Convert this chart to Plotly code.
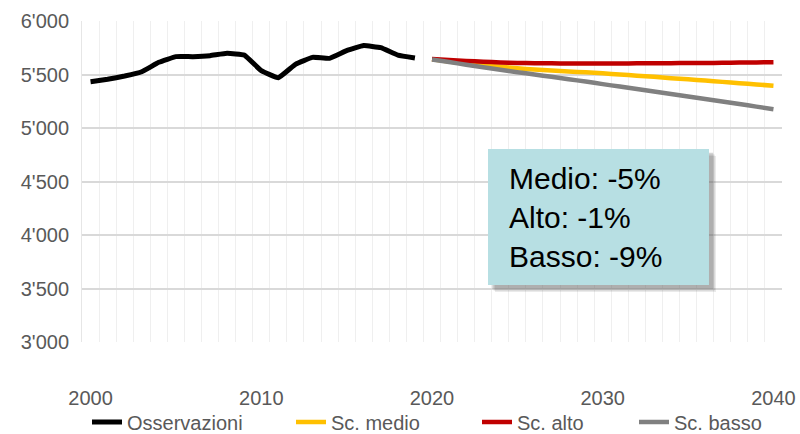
import plotly.graph_objects as go

obs_years = list(range(2000, 2020))
obs_values = [5433, 5455, 5486, 5526, 5614, 5667, 5667, 5676, 5698, 5682,
              5536, 5470, 5595, 5660, 5651, 5723, 5770, 5751, 5682, 5655]

sc_years = list(range(2020, 2041))
sc_medio = [5642, 5622, 5603, 5587, 5572, 5558, 5547, 5537, 5528, 5520, 5511,
            5500, 5489, 5478, 5466, 5455, 5443, 5431, 5419, 5407, 5395]
sc_alto = [5645, 5636, 5627, 5619, 5613, 5608, 5605, 5604, 5603, 5603, 5603,
           5603, 5604, 5605, 5606, 5607, 5608, 5609, 5611, 5613, 5614]
sc_basso = [5640, 5616, 5592, 5568, 5545, 5522, 5500, 5478, 5456, 5434, 5410,
            5387, 5364, 5341, 5318, 5295, 5272, 5248, 5224, 5200, 5176]

series_names = ["Osservazioni", "Sc. medio", "Sc. alto", "Sc. basso"]
series_colors = ["#000000", "#FFC000", "#C00000", "#808080"]

y_ticks = [3000, 3500, 4000, 4500, 5000, 5500, 6000]
y_ticklabels = ["3'000", "3'500", "4'000", "4'500", "5'000", "5'500", "6'000"]
x_ticks = [2000, 2010, 2020, 2030, 2040]

box_lines = ["Medio: -5%", "Alto: -1%", "Basso: -9%"]

FONT = "Liberation Sans, Arial, sans-serif"

# legend entry left positions in container pixels (layout only)
legend_px = [97, 301, 487, 644]
legend_ids = ["legend", "legend2", "legend3", "legend4"]

fig = go.Figure()
data = [(obs_years, obs_values), (sc_years, sc_medio), (sc_years, sc_alto), (sc_years, sc_basso)]
widths = [5, 4.5, 4.5, 4.5]
for (xs, ys), name, color, w, lg in zip(data, series_names, series_colors, widths, legend_ids):
    fig.add_trace(go.Scatter(x=xs, y=ys, mode="lines", name=name, legend=lg,
                             line=dict(color=color, width=w, shape="spline", smoothing=0.3)))

# annotation box with shadow (paper coordinates)
bx0, bx1, by0, by1 = 0.58, 0.8957, 0.1776, 0.6012
shapes = []
for dx, dy, op in [(0.010, -0.022, 0.12), (0.008, -0.017, 0.18), (0.006, -0.012, 0.25)]:
    shapes.append(dict(type="rect", xref="paper", yref="paper",
                       x0=bx0 + dx, x1=bx1 + dx, y0=by0 + dy, y1=by1 + dy,
                       fillcolor="#555555", opacity=op, line=dict(width=0), layer="above"))
shapes.append(dict(type="rect", xref="paper", yref="paper",
                   x0=bx0, x1=bx1, y0=by0, y1=by1,
                   fillcolor="#B7DFE3", line=dict(width=0), layer="above"))

legend_layout = {}
for lg, px in zip(legend_ids, legend_px):
    legend_layout[lg] = dict(orientation="h", xref="container", yref="container",
                             x=(px - 10) / 800, xanchor="left",
                             y=12 / 434, yanchor="middle",
                             font=dict(family=FONT, size=20, color="#595959"),
                             bgcolor="rgba(0,0,0,0)")

fig.update_layout(
    width=800, height=434,
    margin=dict(l=82, r=18, t=21, b=92, autoexpand=False),
    paper_bgcolor="white", plot_bgcolor="white",
    font=dict(family=FONT, size=20, color="#595959"),
    shapes=shapes,
    annotations=[dict(xref="paper", yref="paper", x=0.607, y=0.389,
                      xanchor="left", yanchor="middle", align="left",
                      text="<br>".join(box_lines), showarrow=False,
                      font=dict(family=FONT, size=30, color="#000000"))],
    showlegend=True,
    **legend_layout,
)
fig.update_xaxes(range=[1999.5, 2040.5], tickvals=x_ticks, showgrid=False,
                 showline=False, zeroline=False, ticks="", ticklabelstandoff=42,
                 automargin=False,
                 minor=dict(tick0=1999.5, dtick=1, showgrid=True,
                            gridcolor="#EFEFEF", gridwidth=1, ticks=""))
fig.update_yaxes(range=[3000, 6000], tickvals=y_ticks, ticktext=y_ticklabels,
                 showgrid=True, gridcolor="#D9D9D9", gridwidth=1.5,
                 showline=True, linecolor="#E6E6E6", zeroline=False, ticks="",
                 ticklabelstandoff=8, automargin=False)

fig.write_html("out.html", config={"displayModeBar": False},
               post_script="document.body.style.margin='0';document.body.style.overflow='hidden';")
